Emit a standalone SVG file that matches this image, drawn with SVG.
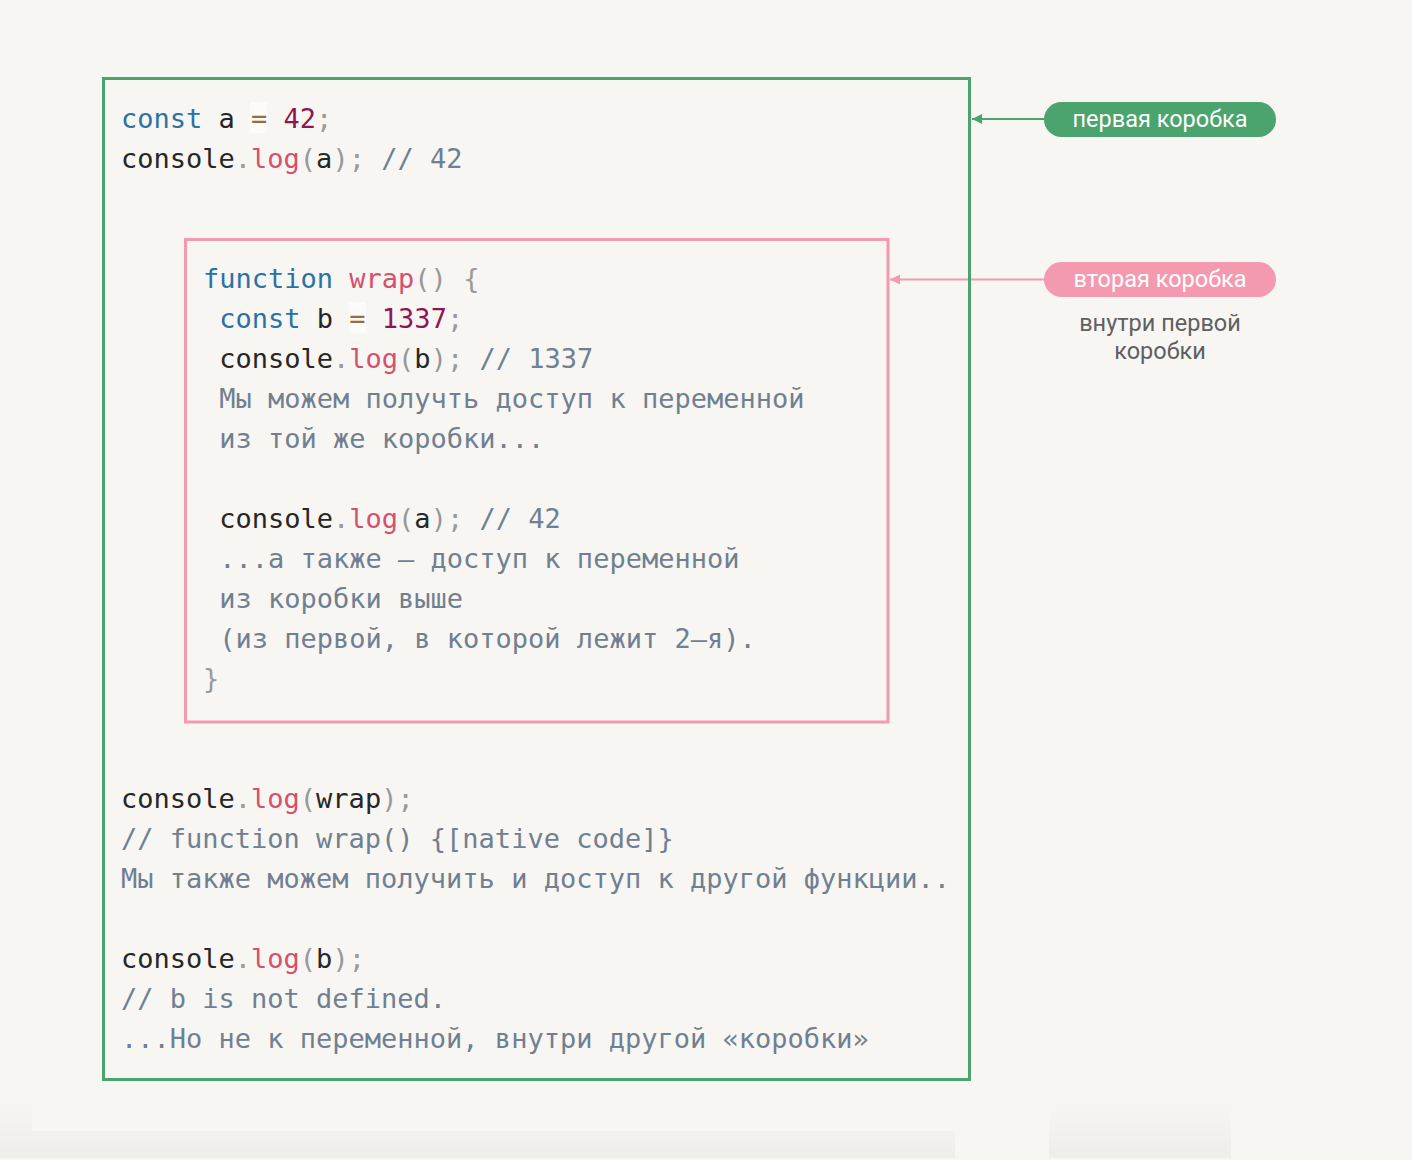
<svg xmlns="http://www.w3.org/2000/svg" width="1412" height="1160" viewBox="0 0 1412 1160">
  <style>
    .code { font-family: "DejaVu Sans Mono", "Liberation Mono", monospace; font-size: 27px; fill: #262626; white-space: pre; }
    .k { fill: #2a72a6; }
    .f { fill: #d5506c; }
    .n { fill: #8f1652; }
    .o { fill: #9a6e3a; }
    .p { fill: #999999; }
    .c { fill: #708090; }
    .opbg { fill: #fcfbf9; }
    .pill-text { font-family: Roboto, "Noto Sans", sans-serif; font-size: 23.5px; fill: #ffffff; text-anchor: middle; }
    .sub { font-family: Roboto, "Noto Sans", sans-serif; font-size: 23.5px; fill: #5f5f5f; text-anchor: middle; }
  </style>
  <defs>
    <marker id="arrGreen" markerWidth="10" markerHeight="10" refX="10" refY="5" orient="auto" markerUnits="userSpaceOnUse">
      <path d="M10,5 L0,0 L0,10 Z" fill="#4ba36e"/>
    </marker>
    <marker id="arrPink" markerWidth="10" markerHeight="10" refX="10" refY="5" orient="auto" markerUnits="userSpaceOnUse">
      <path d="M10,5 L0,0 L0,10 Z" fill="#f49ab0"/>
    </marker>
    <linearGradient id="shade" x1="0" y1="0" x2="0" y2="1">
      <stop offset="0" stop-color="#f7f6f3"/>
      <stop offset="1" stop-color="#eeede9"/>
    </linearGradient>
  </defs>

  <rect x="0" y="0" width="1412" height="1160" fill="#f7f6f3"/>

  <!-- faint bottom shading -->
  <rect x="0" y="1099" width="955" height="59" fill="url(#shade)"/>
  <rect x="32" y="1099" width="923" height="32" fill="#f7f6f3"/>
  <rect x="1049" y="1099" width="182" height="59" fill="url(#shade)"/>

  <g id="connectors">
    <line x1="1046" y1="279.5" x2="890" y2="279.5" stroke="#f49ab0" stroke-width="2" marker-end="url(#arrPink)"/>
    <line x1="1046" y1="119" x2="972" y2="119" stroke="#4ba36e" stroke-width="2" marker-end="url(#arrGreen)"/>
  </g>

  <g id="box-outer">
    <rect x="103.5" y="78.5" width="866" height="1001" fill="none" stroke="#4ba36e" stroke-width="3"/>
    <rect class="opbg" x="250" y="102" width="17" height="31"/>
    <text class="code" x="121" y="128"><tspan class="k">const</tspan> a <tspan class="o">=</tspan> <tspan class="n">42</tspan><tspan class="p">;</tspan></text>
    <text class="code" x="121" y="168">console<tspan class="p">.</tspan><tspan class="f">log</tspan><tspan class="p">(</tspan>a<tspan class="p">);</tspan> <tspan class="c">// 42</tspan></text>

    <text class="code" x="121" y="808">console<tspan class="p">.</tspan><tspan class="f">log</tspan><tspan class="p">(</tspan>wrap<tspan class="p">);</tspan></text>
    <text class="code c" x="121" y="848">// function wrap() {[native code]}</text>
    <text class="code c" x="121" y="888">Мы также можем получить и доступ к другой функции..</text>
    <text class="code" x="121" y="968">console<tspan class="p">.</tspan><tspan class="f">log</tspan><tspan class="p">(</tspan>b<tspan class="p">);</tspan></text>
    <text class="code c" x="121" y="1008">// b is not defined.</text>
    <text class="code c" x="121" y="1048">...Но не к переменной, внутри другой «коробки»</text>
  </g>

  <g id="box-inner">
    <rect x="185.5" y="239.5" width="702.5" height="482.5" fill="none" stroke="#f49ab0" stroke-width="3"/>
    <rect class="opbg" x="349" y="302" width="17" height="31"/>
    <text class="code" x="203" y="288"><tspan class="k">function</tspan> <tspan class="f">wrap</tspan><tspan class="p">()</tspan> <tspan class="p">{</tspan></text>
    <text class="code" x="203" y="328"> <tspan class="k">const</tspan> b <tspan class="o">=</tspan> <tspan class="n">1337</tspan><tspan class="p">;</tspan></text>
    <text class="code" x="203" y="368"> console<tspan class="p">.</tspan><tspan class="f">log</tspan><tspan class="p">(</tspan>b<tspan class="p">);</tspan> <tspan class="c">// 1337</tspan></text>
    <text class="code c" x="203" y="408"> Мы можем получть доступ к переменной</text>
    <text class="code c" x="203" y="448"> из той же коробки...</text>
    <text class="code" x="203" y="528"> console<tspan class="p">.</tspan><tspan class="f">log</tspan><tspan class="p">(</tspan>a<tspan class="p">);</tspan> <tspan class="c">// 42</tspan></text>
    <text class="code c" x="203" y="568"> ...а также — доступ к переменной</text>
    <text class="code c" x="203" y="608"> из коробки выше</text>
    <text class="code c" x="203" y="648"> (из первой, в которой лежит 2–я).</text>
    <text class="code p" x="203" y="688">}</text>
  </g>

  <g id="label-first">
    <rect x="1044" y="102" width="232" height="35" rx="17.5" fill="#4ba36e"/>
    <text class="pill-text" x="1160" y="127">первая коробка</text>
  </g>

  <g id="label-second">
    <rect x="1044" y="262" width="232" height="35" rx="17.5" fill="#f49ab0"/>
    <text class="pill-text" x="1160" y="287">вторая коробка</text>
    <text class="sub" x="1160" y="331">внутри первой</text>
    <text class="sub" x="1160" y="359">коробки</text>
  </g>
</svg>
